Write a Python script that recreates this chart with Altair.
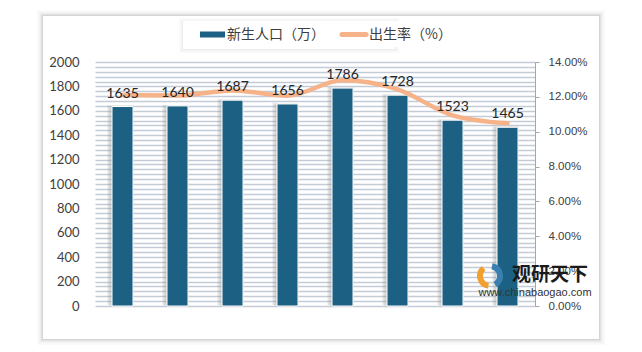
import altair as alt
import pandas as pd

years = ["2012", "2013", "2014", "2015", "2016", "2017", "2018", "2019"]
births = [1635, 1640, 1687, 1656, 1786, 1728, 1523, 1465]
rates_pct = [12.10, 12.08, 12.37, 12.07, 12.95, 12.43, 10.94, 10.48]
left_label_values = [0, 200, 400, 600, 800, 1000, 1200, 1400, 1600, 1800, 2000]
stripe_values = list(range(0, 2001, 40))
right_ticks = [0.0, 0.02, 0.04, 0.06, 0.08, 0.10, 0.12, 0.14]
legend_names = ["新生人口（万）", "出生率（%）"]
watermark = ["观研天下", "www.chinabaogao.com"]

df = pd.DataFrame({"year": years, "births": births, "rate": [r / 100 for r in rates_pct]})

W, H = 440, 244
BAR = "#1C6184"
LINE = "#F6B38A"
LAB = "#404040"
one = alt.Data(values=[{"k": 1}])

x_enc = alt.X(
    "year:N",
    sort=years,
    scale=alt.Scale(paddingInner=0, paddingOuter=0),
    axis=alt.Axis(title=None, labelAngle=0, labelFont="Lato", labelFontSize=13,
                  labelColor=LAB, ticks=False, domain=True, domainColor="#C8CED6",
                  labelPadding=9),
)

y_left = alt.Y(
    "births:Q",
    scale=alt.Scale(domain=[0, 2000], nice=False),
    axis=alt.Axis(title=None, values=stripe_values, grid=True, gridColor="#C3CCD6",
                  gridWidth=1.5, domain=False, ticks=False, labelFont="Lato", format="d",
                  labelFontSize=13, labelColor=LAB, labelPadding=16, labelOverlap=False,
                  labelExpr="datum.value % 200 == 0 ? datum.label : ''"),
)
y_rate = alt.Y("rate:Q", scale=alt.Scale(domain=[0, 0.14], nice=False),
               axis=alt.Axis(title=None, orient="right", values=right_ticks, format=".2%",
                             grid=False, domainColor="#A6A6A6", tickColor="#A6A6A6", tickSize=4,
                             labelPadding=9, labelFont="Liberation Sans", labelFontSize=11.5,
                             labelColor=LAB))

shadow = alt.Chart(df).mark_bar(size=26, color="#8a8a8a", opacity=0.22, xOffset=-2, yOffset=-1).encode(
    x=x_enc, y=y_left)
shadow2 = alt.Chart(df).mark_bar(size=24, color="#8a8a8a", opacity=0.2, xOffset=-1).encode(
    x=x_enc, y=y_left)
bars = alt.Chart(df).mark_bar(size=21, color=BAR, stroke="white", strokeWidth=1).encode(
    x=x_enc, y=y_left)

line = alt.Chart(df).mark_line(color=LINE, strokeWidth=4.5, interpolate="monotone",
                               strokeCap="round").encode(x=x_enc, y=y_rate)

left_layer = alt.layer(shadow, shadow2, bars)
right_layer = alt.layer(line)

main = alt.layer(left_layer, right_layer).resolve_scale(y="independent")

# card frame shadow (decoration)
frame_layers = []
for e, op in [(1, 0.30), (2, 0.20), (3, 0.13), (4, 0.08), (5, 0.05), (6, 0.03)]:
    frame_layers.append(
        alt.Chart(one).mark_rect(fill=None, stroke="#6f6f6f", strokeWidth=1, strokeOpacity=op).encode(
            x=alt.value(-52 - e + 0.5), x2=alt.value(503 + e - 0.5 + 1),
            y=alt.value(-47 - e + 0.5 + 1), y2=alt.value(275 + e - 0.5 + 2)))

# legend box
leg_layers = []
for e, op in [(1, 0.12), (2, 0.08), (3, 0.05), (4, 0.03)]:
    leg_layers.append(
        alt.Chart(one).mark_rect(fill=None, stroke="#6f6f6f", strokeWidth=1, strokeOpacity=op).encode(
            x=alt.value(88 - e + 0.5), x2=alt.value(300 + e - 0.5),
            y=alt.value(-41 - e + 0.5 + 1), y2=alt.value(-15 + e - 0.5 + 2)))
leg_layers.append(alt.Chart(one).mark_rect(fill="white").encode(
    x=alt.value(88), x2=alt.value(360), y=alt.value(-41), y2=alt.value(-15)))
leg_layers.append(alt.Chart(one).mark_rect(fill=BAR).encode(
    x=alt.value(105), x2=alt.value(130), y=alt.value(-30.5), y2=alt.value(-24.5)))
leg_layers.append(alt.Chart(one).mark_rule(color=LINE, strokeWidth=5, strokeCap="round").encode(
    x=alt.value(247), x2=alt.value(271), y=alt.value(-27.5)))
leg_layers.append(alt.Chart(pd.DataFrame({"t": [legend_names[0]]})).mark_text(
    font="Noto Sans CJK SC", fontSize=14, color=LAB, align="left", baseline="middle").encode(
    x=alt.value(132), y=alt.value(-27.5), text="t:N"))
leg_layers.append(alt.Chart(pd.DataFrame({"t": [legend_names[1]]})).mark_text(
    font="Noto Sans CJK SC", fontSize=14, color=LAB, align="left", baseline="middle").encode(
    x=alt.value(274), y=alt.value(-27.5), text="t:N"))

# bar value labels, drawn above the line (same left scale)
label_layer = alt.Chart(df).mark_text(font="Lato", fontSize=14, color="#262626",
                                      baseline="alphabetic", dy=-9).encode(
    x=alt.X("year:N", sort=years, scale=alt.Scale(paddingInner=0, paddingOuter=0), axis=None),
    y=alt.Y("births:Q", scale=alt.Scale(domain=[0, 2000], nice=False), axis=None),
    text="births:Q")

# watermark
wm = [
    alt.Chart(one).mark_arc(color="#F0A030", radius=13, radius2=7, theta=3.3, theta2=5.6).encode(
        x=alt.value(395), y=alt.value(214)),
    alt.Chart(one).mark_arc(color="#3B7FB0", radius=13, radius2=7, theta=0.2, theta2=2.6).encode(
        x=alt.value(395), y=alt.value(214)),
    alt.Chart(pd.DataFrame({"t": [watermark[0]]})).mark_text(
        font="Noto Sans CJK SC", fontSize=19, fontWeight="bold", color="#1a1a1a",
        baseline="middle", align="center").encode(x=alt.value(455), y=alt.value(213), text="t:N"),
    alt.Chart(pd.DataFrame({"t": [watermark[1]]})).mark_text(
        font="Liberation Sans", fontSize=11, color="#333333",
        baseline="middle", align="center").encode(x=alt.value(440), y=alt.value(231), text="t:N"),
]

chart = alt.layer(*frame_layers, *leg_layers, main, label_layer, *wm).resolve_scale(
    y="independent"
).properties(
    width=W, height=H,
    background="white",
    padding={"left": 95, "top": 62, "right": 107, "bottom": 46},
    autosize=alt.AutoSizeParams(type="none"),
).configure_view(stroke=None)

chart.save("out.html", embed_options={"renderer": "svg", "actions": False})
